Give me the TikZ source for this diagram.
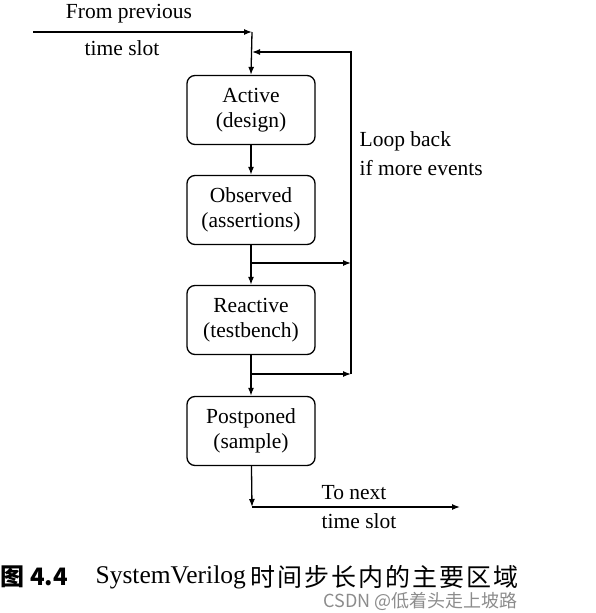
\documentclass[tikz,border=0pt]{standalone}
\usepackage{fontspec}
\setmainfont{Liberation Serif}
\newfontfamily\cjk{Noto Sans CJK SC}
\usetikzlibrary{arrows.meta}

\begin{document}
\begin{tikzpicture}[x=1pt,y=-1pt,line width=1.3pt,>={Latex[length=8pt,width=6pt]},
		blk/.style={draw,rounded corners=8pt,minimum width=128pt,minimum height=69pt,align=center,inner sep=0pt,font=\fontsize{21.5}{25}\selectfont},
		lbl/.style={align=left,inner sep=0pt,font=\fontsize{21.5}{29}\selectfont}]
		\useasboundingbox (0,0) rectangle (595,613);
		% regions
		\node[blk] (act) at (251,110) {Active\\(design)};
		\node[blk] (obs) at (251,210) {Observed\\(assertions)};
		\node[blk] (rea) at (251,320) {Reactive\\(testbench)};
		\node[blk] (pst) at (251,431) {Postponed\\(sample)};
		% points on the lines
		\coordinate (in) at (33,32);
		\coordinate (top) at (252,32);
		\coordinate (lt) at (252,52);
		\coordinate (rt) at (351,52);
		\coordinate (b1) at (252,263);
		\coordinate (r1) at (351,263);
		\coordinate (b2) at (252,374);
		\coordinate (r2) at (351,374);
		\coordinate (dn) at (252,507);
		\coordinate (out) at (460,507);
		\draw [->] (in) -- (top);
		\draw [->] (top) -- (act.north);
		\draw [->] (act) -- (obs);
		\draw [->] (obs) -- (rea);
		\draw [->] (rea) -- (pst);
		\draw [->] (b1) -- (r1);
		\draw [->] (b2) -- (r2);
		\draw [->] (r2) -- (rt) -- (lt);
		\draw [->] (pst) -- (dn);
		\draw [->] (dn) -- (out);
		% labels
		\node[lbl] (from) at (129,14) {From previous};
		\node[lbl] (slot1) at (122,48) {time slot};
		\node[lbl,anchor=west] (loop) at (359,154) {Loop back\\if more events};
		\node[lbl,anchor=west] (next) at (321,507) {To next\\time slot};
		% caption
		\node[anchor=west,inner sep=0pt,font=\cjk\bfseries\fontsize{24}{24}\selectfont] (cap1) at (0,577) {图 4.4};
		\node[anchor=west,inner sep=0pt,font=\fontsize{25.5}{25}\selectfont] (cap2) at (95,577) {SystemVerilog};
		\node[anchor=west,inner sep=0pt,font=\cjk\fontsize{25}{25}\selectfont\addfontfeatures{LetterSpace=8}] (cap3) at (250,577) {时间步长内的主要区域};
		\node[anchor=west,inner sep=0pt,text=black!45,font=\cjk\fontsize{18}{18}\selectfont] (mark) at (323,601) {CSDN @低着头走上坡路};
	\end{tikzpicture}
\end{document}
